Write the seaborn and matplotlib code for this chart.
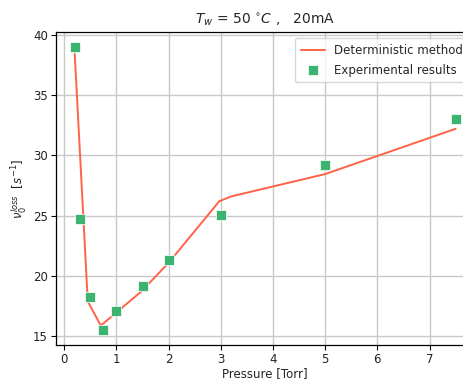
import matplotlib
matplotlib.use("Agg")
import matplotlib.pyplot as plt
import seaborn as sns
import pandas as pd

# Deterministic model curve
model_pressure = [0.2, 0.45, 0.7, 1.47, 2.0, 2.97, 3.2, 5.0, 7.5]
model_nu = [38.4, 17.9, 15.9, 18.7, 21.1, 26.2, 26.6, 28.45, 32.2]

# Measured loss frequencies
exp_pressure = [0.2, 0.3, 0.5, 0.75, 1.0, 1.5, 2.0, 3.0, 5.0, 7.5]
exp_nu = [39.0, 24.75, 18.3, 15.5, 17.1, 19.2, 21.35, 25.1, 29.2, 33.0]

x_ticks = [0, 1, 2, 3, 4, 5, 6, 7]
y_ticks = [15, 20, 25, 30, 35, 40]

sns.set_style("whitegrid", {
    "axes.edgecolor": "black",
    "grid.color": "#cccccc",
    "xtick.bottom": True,
    "ytick.left": True,
})
plt.rcParams["font.family"] = ["DejaVu Sans"]
plt.rcParams["mathtext.fontset"] = "dejavusans"

fig = plt.figure(figsize=(4.64, 3.79), dpi=100)
ax = fig.add_axes([0.12, 0.09, 0.903, 0.825])

model = pd.DataFrame({"p": model_pressure, "nu": model_nu})
exp = pd.DataFrame({"p": exp_pressure, "nu": exp_nu})

sns.lineplot(data=model, x="p", y="nu", sort=False, color="tomato",
             linewidth=1.4, label="Deterministic method", ax=ax, zorder=2)
sns.scatterplot(data=exp, x="p", y="nu", marker="s", s=42,
                color="mediumseagreen", label="Experimental results",
                ax=ax, zorder=3)

ax.set_xticks(x_ticks)
ax.set_yticks(y_ticks)
ax.set_xlim(-0.165, 7.865)
ax.set_ylim(14.3, 40.2)
ax.grid(True, color="#c8c8c8", linewidth=1.0)
ax.tick_params(axis="both", labelsize=8.5, length=3.5, width=0.8,
               color="black", labelcolor="#222222", pad=2)
for sp in ax.spines.values():
    sp.set_linewidth(0.9)

ax.set_xlabel("Pressure [Torr]", fontsize=8.5, labelpad=1, color="#222222")
ax.set_ylabel(r"$\nu_0^{loss}$  [$s^{-1}$]", fontsize=8.5, labelpad=3,
              color="#222222")
ax.set_title(r"$T_w$ = 50 $^{\circ}C$ ,   20mA", fontsize=10, pad=6)

leg = ax.legend(loc="upper right", fontsize=8.5, frameon=True,
                borderaxespad=0.5, handlelength=2.0, labelspacing=0.55,
                borderpad=0.5)
leg.get_frame().set_edgecolor("#cccccc")

fig.savefig("out.png", dpi=100)
